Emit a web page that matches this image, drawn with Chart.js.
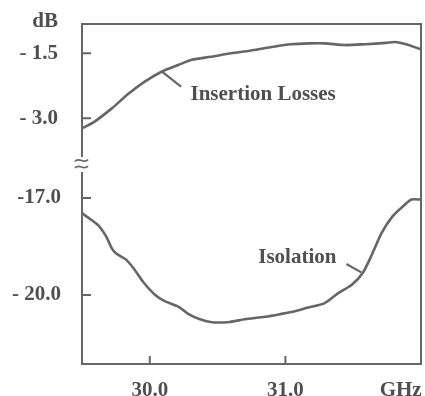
<!DOCTYPE html>
<html>
<head>
<meta charset="utf-8">
<script src="https://cdn.jsdelivr.net/npm/chart.js@4/dist/chart.umd.min.js"></script>
<style>
  html, body { margin: 0; padding: 0; background: #ffffff; }
  #wrap { width: 425px; height: 396px; position: relative; }
</style>
</head>
<body>
<div id="wrap"><canvas id="c"></canvas></div>
<script>
// Switch response versus frequency (GHz), two broken-axis bands in dB
const insertionFreq = [29.50, 29.59, 29.72, 29.84, 29.96, 30.09, 30.21, 30.31, 30.45, 30.60, 30.74,
                       30.89, 31.04, 31.18, 31.29, 31.44, 31.59, 31.74, 31.81, 31.89, 32.00];
const insertionDb   = [-3.23, -3.08, -2.77, -2.44, -2.16, -1.92, -1.77, -1.65, -1.58, -1.50, -1.44,
                       -1.36, -1.29, -1.27, -1.27, -1.31, -1.29, -1.26, -1.24, -1.29, -1.41];

const isolationFreq = [29.50, 29.57, 29.63, 29.68, 29.72, 29.75, 29.82, 29.88, 29.95, 30.04, 30.11,
                       30.21, 30.28, 30.37, 30.46, 30.59, 30.70, 30.85, 30.96, 31.07, 31.16, 31.29,
                       31.39, 31.49, 31.57, 31.64, 31.71, 31.79, 31.88, 31.93, 32.00];
const isolationDb   = [-17.47, -17.68, -17.89, -18.20, -18.56, -18.71, -18.89, -19.17, -19.59, -20.00, -20.19,
                       -20.36, -20.57, -20.75, -20.84, -20.83, -20.75, -20.67, -20.59, -20.50, -20.39, -20.25,
                       -19.94, -19.68, -19.32, -18.73, -18.08, -17.57, -17.21, -17.05, -17.05];

const freqTicks = [30.0, 31.0];
const freqTickLabels = ['30.0', '31.0'];
const freqUnit = 'GHz';

const upperTicks = [-1.5, -3.0];
const upperTickLabels = ['- 1.5', '- 3.0'];
const lowerTicks = [-17.0, -20.0];
const lowerTickLabels = ['-17.0', '- 20.0'];
const levelUnit = 'dB';

const seriesNames = ['Insertion Losses', 'Isolation'];

const INK = '#4f4f4f';
const LINE = '#666666';
const FONT = { family: '"Liberation Serif", "Times New Roman", serif', size: 21, weight: 'bold' };
const FONT_CSS = 'bold 21px "Liberation Serif", "Times New Roman", serif';

const toPoints = (xs, ys) => xs.map((x, i) => ({ x: x, y: ys[i] }));

// keep the plot box fixed: no extra room reserved for overhanging labels
const noPad = s => { s.paddingLeft = 0; s.paddingRight = 0; s.paddingTop = 0; s.paddingBottom = 0; };

// Frame, axis break, inward tick marks, unit label and curve call-outs
const framePlugin = {
  id: 'frame',
  afterDraw(chart) {
    const ctx = chart.ctx;
    const a = chart.chartArea;
    const sx = chart.scales.x, yU = chart.scales.yIns, yL = chart.scales.yIso;
    ctx.save();
    ctx.strokeStyle = LINE;
    ctx.lineWidth = 2;
    ctx.lineCap = 'butt';

    // box: top, right, bottom
    ctx.beginPath();
    ctx.moveTo(a.left - 1, a.top);
    ctx.lineTo(a.right, a.top);
    ctx.lineTo(a.right, a.bottom);
    ctx.lineTo(a.left - 1, a.bottom);
    ctx.stroke();

    // left axis with a gap at the break
    const brk = yU.bottom;
    ctx.beginPath();
    ctx.moveTo(a.left, a.top);
    ctx.lineTo(a.left, brk - 6);
    ctx.moveTo(a.left, brk + 9);
    ctx.lineTo(a.left, a.bottom);
    ctx.stroke();

    // break symbol
    ctx.lineWidth = 1.8;
    [-2.5, 4].forEach(k => {
      const y0 = brk + k;
      ctx.beginPath();
      ctx.moveTo(a.left - 7, y0 + 1);
      ctx.bezierCurveTo(a.left - 3, y0 - 4, a.left + 2, y0 + 4, a.left + 6, y0 - 1);
      ctx.stroke();
    });

    // inward tick marks
    ctx.lineWidth = 2;
    ctx.beginPath();
    upperTicks.forEach(v => { const p = yU.getPixelForValue(v); ctx.moveTo(a.left, p); ctx.lineTo(a.left + 9, p); });
    lowerTicks.forEach(v => { const p = yL.getPixelForValue(v); ctx.moveTo(a.left, p); ctx.lineTo(a.left + 9, p); });
    freqTicks.forEach(v => { const p = sx.getPixelForValue(v); ctx.moveTo(p, a.bottom); ctx.lineTo(p, a.bottom - 8); });
    ctx.stroke();

    // unit of the level axis
    ctx.fillStyle = INK;
    ctx.font = FONT_CSS;
    ctx.textAlign = 'right';
    ctx.textBaseline = 'middle';
    ctx.fillText(levelUnit, a.left - 24, a.top - 2);

    // call-outs
    const callouts = [
      { text: seriesNames[0], scale: yU, from: [30.09, -1.92], to: [30.23, -2.27], at: [30.30, -2.46] },
      { text: seriesNames[1], scale: yL, from: [31.56, -19.30], to: [31.45, -19.04], at: [30.80, -18.85] }
    ];
    ctx.lineWidth = 2.2;
    callouts.forEach(c => {
      ctx.beginPath();
      ctx.moveTo(sx.getPixelForValue(c.from[0]), c.scale.getPixelForValue(c.from[1]));
      ctx.lineTo(sx.getPixelForValue(c.to[0]), c.scale.getPixelForValue(c.to[1]));
      ctx.stroke();
      ctx.textAlign = 'left';
      ctx.fillText(c.text, sx.getPixelForValue(c.at[0]), c.scale.getPixelForValue(c.at[1]));
    });
    ctx.restore();
  }
};

const tickFont = Object.assign({}, FONT);

new Chart(document.getElementById('c'), {
  type: 'line',
  data: {
    datasets: [
      {
        label: seriesNames[0],
        data: toPoints(insertionFreq, insertionDb),
        yAxisID: 'yIns',
        borderColor: LINE,
        borderWidth: 2.6,
        pointRadius: 0,
        tension: 0.25,
        fill: false
      },
      {
        label: seriesNames[1],
        data: toPoints(isolationFreq, isolationDb),
        yAxisID: 'yIso',
        borderColor: LINE,
        borderWidth: 2.6,
        pointRadius: 0,
        tension: 0.25,
        fill: false
      }
    ]
  },
  options: {
    responsive: true,
    maintainAspectRatio: false,
    animation: false,
    layout: { padding: { left: 0, top: 24, right: 4, bottom: 0 } },
    plugins: { legend: { display: false }, tooltip: { enabled: false } },
    scales: {
      x: {
        type: 'linear',
        min: 29.5,
        max: 32.0,
        grid: { display: false },
        border: { display: false },
        afterFit: s => { s.height = 32; noPad(s); },
        afterBuildTicks: s => {
          s.ticks = freqTicks.map(v => ({ value: v })).concat([{ value: 31.85 }]);
        },
        ticks: {
          autoSkip: false,
          maxRotation: 0,
          padding: 6,
          color: INK,
          font: tickFont,
          callback: v => {
            const i = freqTicks.indexOf(v);
            return i >= 0 ? freqTickLabels[i] : freqUnit;
          }
        }
      },
      yIso: {
        type: 'linear',
        position: 'left',
        stack: 'level',
        stackWeight: 201,
        min: -22.13,
        max: -15.92,
        grid: { display: false },
        border: { display: false },
        afterFit: s => { s.width = 82; noPad(s); },
        afterBuildTicks: s => { s.ticks = lowerTicks.map(v => ({ value: v })); },
        ticks: {
          autoSkip: false,
          padding: 13,
          color: INK,
          font: tickFont,
          callback: v => lowerTickLabels[lowerTicks.indexOf(v)]
        }
      },
      yIns: {
        type: 'linear',
        position: 'left',
        stack: 'level',
        stackWeight: 139,
        min: -4.03,
        max: -0.824,
        grid: { display: false },
        border: { display: false },
        afterFit: s => { s.width = 82; noPad(s); },
        afterBuildTicks: s => { s.ticks = upperTicks.map(v => ({ value: v })); },
        ticks: {
          autoSkip: false,
          padding: 16,
          color: INK,
          font: tickFont,
          callback: v => upperTickLabels[upperTicks.indexOf(v)]
        }
      }
    }
  },
  plugins: [framePlugin]
});
</script>
</body>
</html>
